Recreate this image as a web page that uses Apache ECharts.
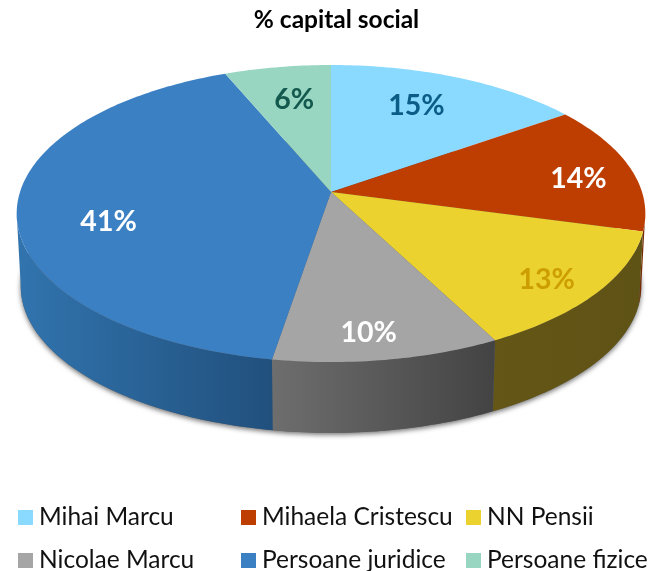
<!DOCTYPE html>
<html><head><meta charset="utf-8">
<style>html,body{margin:0;padding:0;background:#fff}#c{width:651px;height:571px}</style>
<script src="https://cdn.jsdelivr.net/npm/echarts@6/dist/echarts.min.js"></script>
</head><body><div id="c"></div>
<script>
const titleText = '% capital social';
const names = ['Mihai Marcu','Mihaela Cristescu','NN Pensii','Nicolae Marcu','Persoane juridice','Persoane fizice'];
const values = [15.2,14.0,13.2,10.2,41.1,6.3];

// styles
const FONT = 'Lato';
const topColors = ['#8ADAFF','#BE3D00','#ECD22E','#A5A5A5','#3C80C4','#98D6C2'];
const wallColors = [['#4A7F9A','#4A7F9A'],['#7A2800','#7A2800'],['#645616','#5F5215'],['#6E6E6E','#434343'],['#3174AE','#21507D'],['#56796E','#56796E']];
const labelColors = ['#0B5D87','#FFFFFF','#CC9E00','#FFFFFF','#FFFFFF','#14594E'];
const labelRadius = [0.72,0.81,0.84,0.85,0.725,0.72];
const labelTurn = [-3,3,2,2,-9,0.6];
const legendLefts = [18,241,466,18,241,466];
const legendTops = [505,505,505,548,548,548];
// perspective projection of the disc
const CX=331, CY=192, A=145.4, B=311, K=0.145, DEPTH=73, BOTTOM_SCALE=0.987;
const WALL_FROM=98.3, WALL_TO=261.7;

function project(deg, r, bottom){
  const t=deg*Math.PI/180, u=r*Math.sin(t), v=r*Math.cos(t), d=1+K*v;
  const s=bottom?BOTTOM_SCALE:1;
  return [CX+s*B*u/d, CY+(bottom?DEPTH:0)-s*A*v/d];
}
function arc(a,b,bottom){
  const pts=[], n=Math.max(2,Math.ceil(Math.abs(b-a)));
  for(let i=0;i<=n;i++) pts.push(project(a+(b-a)*i/n,1,bottom));
  return pts;
}
const total = values.reduce((s,v)=>s+v,0);
const starts = values.map((_,i)=>values.slice(0,i).reduce((s,v)=>s+v,0));

function sliceRender(i){
  return function(params, api){
    const a=api.value(1)/total*360, b=(api.value(1)+api.value(0))/total*360;
    const top=arc(a,b,false);
    const mid=(a+b)/2+labelTurn[i], lp=project(mid,labelRadius[i],false);
    const children=[
      {type:'polygon',z2:5,shape:{points:[[CX,CY]].concat(top)},style:{fill:topColors[i]}},
      {type:'text',z2:10,style:{x:lp[0]+1,y:lp[1]+1,text:Math.round(api.value(0))+'%',
        fill:labelColors[i],font:'bold 28.5px '+FONT,textAlign:'center',textVerticalAlign:'middle'}}
    ];
    const wa=Math.max(a,WALL_FROM), wb=Math.min(b,WALL_TO);
    if(wb>wa){
      const wt=arc(wa,wb,false), wl=arc(wa,wb,true).reverse();
      const xs=wt.map(p=>p[0]), x0=Math.min(...xs), x1=Math.max(...xs);
      children.unshift({type:'polygon',z2:1,shape:{points:wt.concat(wl)},style:{
        fill:{type:'linear',x:x0,y:0,x2:x1,y2:0,global:true,colorStops:[
          {offset:0,color:wallColors[i][0]},{offset:1,color:wallColors[i][1]}]}}});
    }
    return {type:'group',children};
  };
}
const sliceSeries = names.map((n,i)=>({
  type:'custom',name:n,coordinateSystem:'none',z:2,
  data:[[values[i],starts[i]]],
  itemStyle:{color:topColors[i]},
  renderItem:sliceRender(i),silent:true
}));
const shadowSeries = {
  type:'custom',coordinateSystem:'none',z:1,silent:true,data:[[0]],
  renderItem(){return {type:'polygon',shape:{points:arc(0,360,true)},
    style:{fill:'#666',shadowBlur:5,shadowColor:'rgba(0,0,0,0.55)',shadowOffsetY:2}};}
};
const chart = echarts.init(document.getElementById('c'),null,{renderer:'canvas'});
chart.setOption({
  animation:false,backgroundColor:'#fff',
  title:{text:titleText,left:331.5,top:3,textAlign:'center',textStyle:{fontFamily:FONT,fontWeight:'bold',fontSize:24.5,color:'#000'}},
  legend:names.map((n,i)=>({orient:'horizontal',icon:'rect',itemWidth:15,itemHeight:15,selectedMode:false,padding:0,
    textStyle:{fontFamily:FONT,fontSize:24.5,color:'#111',padding:[0,0,0,1]},
    left:legendLefts[i],top:legendTops[i],data:[n]})),
  series:[shadowSeries].concat(sliceSeries)
});
</script></body></html>
